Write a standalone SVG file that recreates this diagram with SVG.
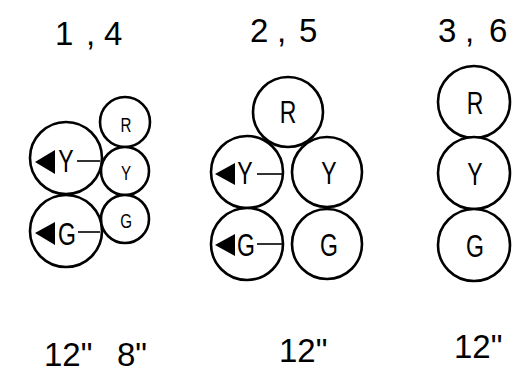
<svg xmlns="http://www.w3.org/2000/svg" width="518" height="377" viewBox="0 0 518 377">
<style>
.c{fill:#fff;stroke:#000;stroke-width:2.6}
.t{font-family:"Liberation Sans","DejaVu Sans",sans-serif;fill:#000;text-anchor:middle}
.b{font-size:32px}
.s{font-size:21px}
.h{font-family:"Liberation Sans","DejaVu Sans",sans-serif;font-size:33px;fill:#000}
.f{font-family:"Liberation Sans","DejaVu Sans",sans-serif;font-size:33px;fill:#000}
.a{fill:#000}
.l{stroke:#000;stroke-width:1.6;fill:none}
</style>
<rect width="518" height="377" fill="#fff"/>
<g id="headers">
<text class="h" x="55" y="45">1</text><text class="h" x="86" y="45">,</text><text class="h" x="104" y="45">4</text>
<text class="h" x="250" y="42">2</text><text class="h" x="277" y="42">,</text><text class="h" x="299" y="42">5</text>
<text class="h" x="438" y="42">3</text><text class="h" x="465" y="42">,</text><text class="h" x="489" y="42">6</text>
</g>
<g id="c1-bigY"><circle class="c" cx="66" cy="158" r="36"/><path class="a" d="M35,162 L55,150 L55,174 Z"/><text class="t b" transform="translate(66,172) scale(0.72,1)">Y</text></g>
<g id="c1-bigG"><circle class="c" cx="66" cy="231" r="36"/><path class="a" d="M35,233 L55,222 L55,245 Z"/><text class="t b" transform="translate(67,245) scale(0.72,1)">G</text></g>
<g id="c1-R"><circle class="c" cx="125" cy="122" r="25"/><text class="t s" transform="translate(126,132) scale(0.72,1)">R</text></g>
<g id="c1-Y"><circle class="c" cx="125" cy="171" r="24"/><text class="t s" transform="translate(126,180) scale(0.72,1)">Y</text></g>
<g id="c1-G"><circle class="c" cx="125" cy="219" r="24"/><text class="t s" transform="translate(126,228) scale(0.72,1)">G</text></g>
<g id="c2-R"><circle class="c" cx="288" cy="112" r="35"/><text class="t b" transform="translate(288,123) scale(0.72,1)">R</text></g>
<g id="c2-Yl"><circle class="c" cx="247" cy="172" r="36"/><path class="a" d="M215,174 L235,163 L235,185 Z"/><text class="t b" transform="translate(245,184) scale(0.72,1)">Y</text></g>
<g id="c2-Gl"><circle class="c" cx="247" cy="244" r="36"/><path class="a" d="M215,245 L235,234 L235,256 Z"/><text class="t b" transform="translate(246,256) scale(0.72,1)">G</text></g>
<g id="c2-Yr"><circle class="c" cx="327" cy="172" r="35"/><text class="t b" transform="translate(329,184) scale(0.72,1)">Y</text></g>
<g id="c2-Gr"><circle class="c" cx="327" cy="244" r="35"/><text class="t b" transform="translate(329,256) scale(0.72,1)">G</text></g>
<g id="c3-R"><circle class="c" cx="474" cy="102" r="36"/><text class="t b" transform="translate(475,114) scale(0.72,1)">R</text></g>
<g id="c3-Y"><circle class="c" cx="474" cy="173" r="36"/><text class="t b" transform="translate(475,185) scale(0.72,1)">Y</text></g>
<g id="c3-G"><circle class="c" cx="474" cy="245" r="36"/><text class="t b" transform="translate(475,257) scale(0.72,1)">G</text></g>
<g id="connectors">
<line class="l" x1="77" y1="161" x2="100" y2="161"/>
<line class="l" x1="78" y1="232" x2="100" y2="232"/>
<line class="l" x1="257" y1="174" x2="282" y2="174"/>
<line class="l" x1="257" y1="244" x2="282" y2="244"/>
</g>
<g id="sizes">
<text class="f" x="44" y="366">12"</text>
<text class="f" x="117" y="366">8"</text>
<text class="f" x="279" y="362">12"</text>
<text class="f" x="454" y="358">12"</text>
</g>
</svg>
